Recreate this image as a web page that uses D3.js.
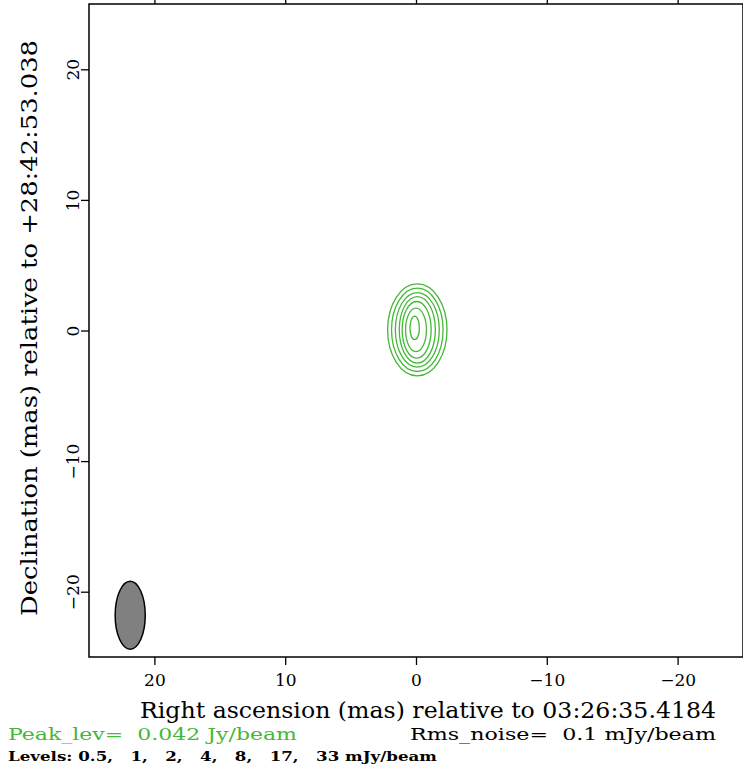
<!DOCTYPE html>
<html>
<head>
<meta charset="utf-8">
<script src="https://cdn.jsdelivr.net/npm/d3@7"></script>
<style>
  body { margin: 0; background: #fff; }
  svg { display: block; }
  text { font-family: "DejaVu Serif", "Liberation Serif", serif; white-space: pre; }
</style>
</head>
<body>
<svg id="map" width="743" height="764"></svg>
<script>
// contour levels (mJy/beam) and the size of each ring (mas)
const levels = [0.5, 1, 2, 4, 8, 17, 33]
const ringHalfWidth = [2.27, 1.97, 1.68, 1.38, 1.11, 0.80, 0.36]
const ringHalfHeight = [3.52, 3.19, 2.85, 2.55, 2.17, 1.66, 0.90]
const ringCenterX = [-0.1, -0.1, -0.1, -0.1, -0.05, 0.0, 0.1]
const ringCenterY = [0.05, 0.05, 0.05, 0.05, 0.05, 0.05, 0.2]

// restoring beam
const beam = { x: 21.85, y: -21.8, halfWidth: 1.15, halfHeight: 2.6 }

const tickValues = [20, 10, 0, -10, -20]
const peakText = 'Peak_lev=  0.042 Jy/beam'
const rmsText = 'Rms_noise=  0.1 mJy/beam'
const levelsText = 'Levels: 0.5,   1,   2,   4,   8,   17,   33 mJy/beam'

const svg = d3.select('#map')
const frame = { left: 89, right: 743, top: 4, bottom: 657 }
const green = '#44b838'

const x = d3.scaleLinear().domain([25, -25]).range([frame.left, frame.right])
const y = d3.scaleLinear().domain([25, -25]).range([frame.top, frame.bottom])

// frame
svg.append('rect')
    .attr('x', frame.left)
    .attr('y', frame.top)
    .attr('width', frame.right - frame.left)
    .attr('height', frame.bottom - frame.top)
    .attr('fill', 'none')
    .attr('stroke', '#000')
    .attr('stroke-width', 1.5)

const styleAxis = (g) => {
    g.select('.domain').remove()
    g.selectAll('.tick line').attr('stroke', '#000').attr('stroke-width', 1.3)
    g.selectAll('.tick text').attr('fill', '#000').style('font-size', '17px')
}

svg.append('g')
    .attr('transform', `translate(0,${frame.bottom})`)
    .call(d3.axisBottom(x).tickValues(tickValues).tickSize(8).tickPadding(9))
    .call(styleAxis)

svg.append('g')
    .attr('transform', `translate(0,${frame.top})`)
    .call(d3.axisTop(x).tickValues(tickValues).tickSize(8).tickFormat(''))
    .call(styleAxis)

svg.append('g')
    .attr('transform', `translate(${frame.left},0)`)
    .call(d3.axisLeft(y).tickValues(tickValues).tickSize(8))
    .call(styleAxis)
    .call(g => g.selectAll('.tick text')
        .attr('x', null).attr('dy', null)
        .attr('text-anchor', 'middle')
        .attr('transform', 'translate(-10,0) rotate(-90)'))

// axis titles
svg.append('text')
    .attr('x', 428)
    .attr('y', 718)
    .attr('text-anchor', 'middle')
    .attr('textLength', 576)
    .attr('lengthAdjust', 'spacingAndGlyphs')
    .style('font-size', '22px')
    .text('Right ascension (mas) relative to 03:26:35.4184')

svg.append('text')
    .attr('transform', 'translate(37,328) rotate(-90)')
    .attr('text-anchor', 'middle')
    .attr('textLength', 576)
    .attr('lengthAdjust', 'spacingAndGlyphs')
    .style('font-size', '22px')
    .text('Declination (mas) relative to +28:42:53.038')

// contours
svg.append('g')
    .selectAll('ellipse')
    .data(levels)
    .join('ellipse')
    .attr('cx', (d, i) => x(ringCenterX[i]))
    .attr('cy', (d, i) => y(ringCenterY[i]))
    .attr('rx', (d, i) => Math.abs(x(ringHalfWidth[i]) - x(0)))
    .attr('ry', (d, i) => Math.abs(y(ringHalfHeight[i]) - y(0)))
    .attr('fill', 'none')
    .attr('stroke', green)
    .attr('stroke-width', 1.3)

// beam
svg.append('ellipse')
    .attr('cx', x(beam.x))
    .attr('cy', y(beam.y))
    .attr('rx', Math.abs(x(beam.halfWidth) - x(0)))
    .attr('ry', Math.abs(y(beam.halfHeight) - y(0)))
    .attr('fill', '#808080')
    .attr('stroke', '#000')
    .attr('stroke-width', 1.5)

// footer
svg.append('text')
    .attr('x', 8).attr('y', 740)
    .attr('textLength', 289)
    .attr('lengthAdjust', 'spacingAndGlyphs')
    .attr('fill', green)
    .style('font-size', '17px')
    .text(peakText)

svg.append('text')
    .attr('x', 410).attr('y', 740)
    .attr('textLength', 306)
    .attr('lengthAdjust', 'spacingAndGlyphs')
    .attr('fill', '#000')
    .style('font-size', '17px')
    .text(rmsText)

svg.append('text')
    .attr('x', 8).attr('y', 761)
    .attr('textLength', 429)
    .attr('lengthAdjust', 'spacingAndGlyphs')
    .attr('fill', '#000')
    .style('font-size', '13px')
    .style('font-weight', 'bold')
    .text(levelsText)
</script>
</body>
</html>
